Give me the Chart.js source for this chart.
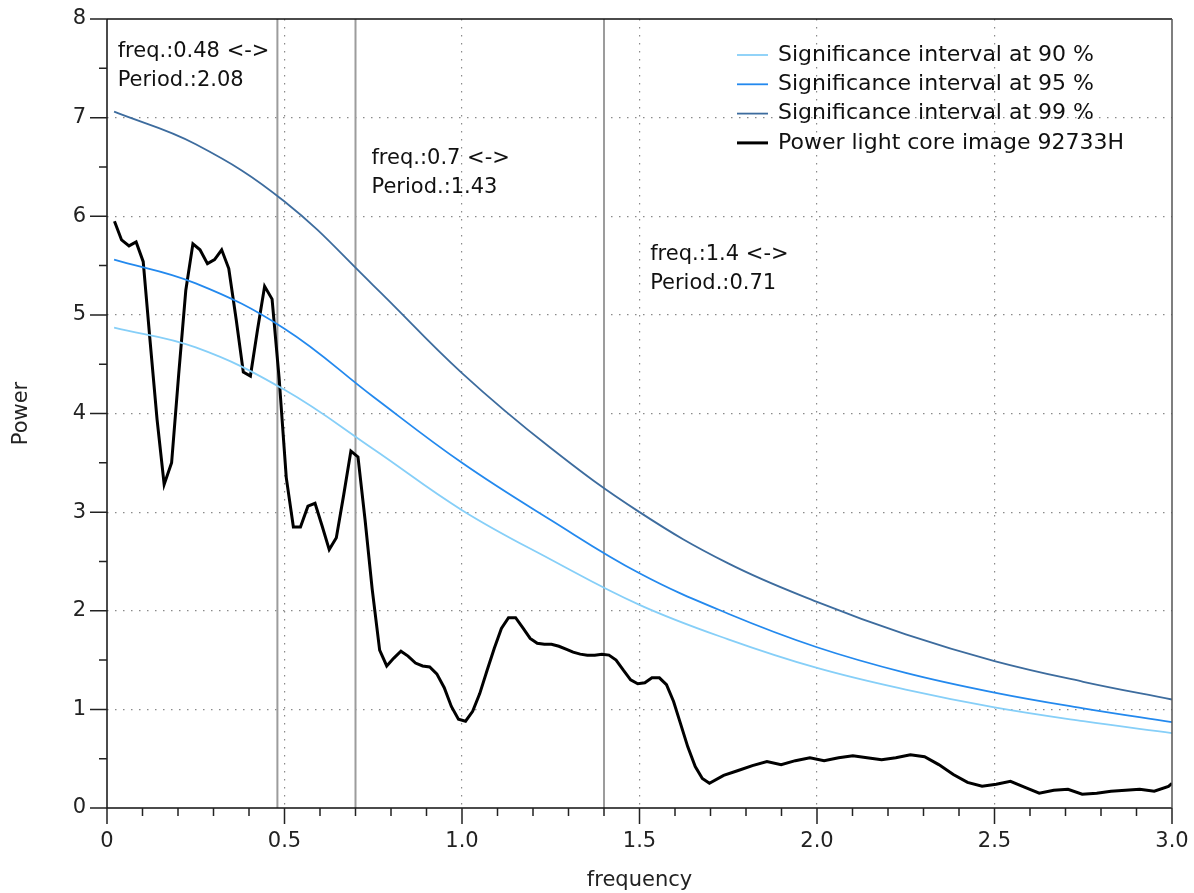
<!DOCTYPE html>
<html>
<head>
<meta charset="utf-8">
<script src="https://cdn.jsdelivr.net/npm/chart.js@4"></script>
<style>
	html, body { margin: 0; padding: 0; background: #fff; }
	#wrap { width: 1194px; height: 893px; }
</style>
</head>
<body>
<div id="wrap"><canvas id="myChart" width="1194" height="893"></canvas></div>
<script>

// Power spectrum (frequency / power)
var freq = [
	0.021, 0.041, 0.062, 0.082, 0.102, 0.121, 0.141, 0.161, 0.182, 0.202,
	0.222, 0.242, 0.262, 0.283, 0.303, 0.323, 0.343, 0.364, 0.384, 0.404,
	0.424, 0.444, 0.465, 0.485, 0.505, 0.525, 0.545, 0.566, 0.586, 0.606,
	0.626, 0.646, 0.667, 0.687, 0.707, 0.727, 0.747, 0.768, 0.788, 0.808,
	0.828, 0.848, 0.869, 0.889, 0.909, 0.929, 0.950, 0.970, 0.990, 1.010,
	1.030, 1.050, 1.071, 1.091, 1.111, 1.131, 1.151, 1.171, 1.192, 1.212,
	1.232, 1.252, 1.273, 1.293, 1.313, 1.333, 1.353, 1.374, 1.394, 1.414,
	1.434, 1.454, 1.475, 1.495, 1.515, 1.535, 1.556, 1.576, 1.596, 1.616,
	1.636, 1.657, 1.677, 1.697, 1.737, 1.778, 1.818, 1.859, 1.899, 1.939,
	1.980, 2.020, 2.061, 2.101, 2.141, 2.182, 2.222, 2.263, 2.303, 2.343,
	2.384, 2.424, 2.465, 2.505, 2.545, 2.586, 2.626, 2.667, 2.707, 2.747,
	2.788, 2.828, 2.869, 2.909, 2.950, 2.990, 3.000
];
var power = [
	5.95, 5.76, 5.70, 5.74, 5.54, 4.75, 3.94, 3.28, 3.50, 4.40,
	5.25, 5.72, 5.66, 5.52, 5.56, 5.66, 5.47, 4.95, 4.42, 4.38,
	4.85, 5.29, 5.16, 4.35, 3.35, 2.85, 2.85, 3.06, 3.09, 2.86,
	2.62, 2.74, 3.18, 3.62, 3.56, 2.92, 2.22, 1.60, 1.44, 1.52,
	1.59, 1.54, 1.47, 1.44, 1.43, 1.36, 1.22, 1.03, 0.90, 0.88,
	0.98, 1.16, 1.40, 1.62, 1.82, 1.93, 1.93, 1.83, 1.72, 1.67,
	1.66, 1.66, 1.64, 1.61, 1.58, 1.56, 1.55, 1.55, 1.56, 1.55,
	1.50, 1.40, 1.30, 1.26, 1.27, 1.32, 1.32, 1.25, 1.08, 0.85,
	0.62, 0.42, 0.30, 0.25, 0.33, 0.38, 0.43, 0.47, 0.44, 0.48,
	0.51, 0.48, 0.51, 0.53, 0.51, 0.49, 0.51, 0.54, 0.52, 0.44,
	0.34, 0.26, 0.22, 0.24, 0.27, 0.21, 0.15, 0.18, 0.19, 0.14,
	0.15, 0.17, 0.18, 0.19, 0.17, 0.22, 0.25
];

// Significance levels
var sigFreq = [0.02, 0.25, 0.5, 0.75, 1.0, 1.25, 1.5, 1.75, 2.0, 2.25, 2.5, 2.75, 3.0];
var sig90   = [4.87, 4.67, 4.24, 3.64, 3.02, 2.52, 2.06, 1.71, 1.42, 1.20, 1.02, 0.88, 0.76];
var sig95   = [5.56, 5.32, 4.86, 4.17, 3.50, 2.92, 2.38, 1.97, 1.63, 1.37, 1.17, 1.01, 0.87];
var sig99   = [7.06, 6.73, 6.15, 5.30, 4.41, 3.65, 3.00, 2.48, 2.09, 1.76, 1.49, 1.28, 1.10];

// Marked peaks
var markFreq   = [0.48, 0.7, 1.4];
var markPeriod = ['2.08', '1.43', '0.71'];
var markLabel  = ['0.48', '0.7', '1.4'];

var FONT = '"DejaVu Sans", sans-serif';
var FSIZE = 21;

function pts(xs, ys) {
	return xs.map(function (x, i) { return { x: x, y: ys[i] }; });
}

// where the marker notes sit (data units)
var notePos = [
	{ x: 0.03,  y: 7.67 },
	{ x: 0.745, y: 6.59 },
	{ x: 1.53,  y: 5.61 }
];

var decor = {
	id: 'decor',
	beforeDatasetsDraw: function (chart) {
		var ctx = chart.ctx, sx = chart.scales.x, a = chart.chartArea;
		ctx.save();
		ctx.strokeStyle = '#9c9c9c';
		ctx.lineWidth = 2;
		markFreq.forEach(function (f) {
			var px = sx.getPixelForValue(f);
			ctx.beginPath();
			ctx.moveTo(px, a.top);
			ctx.lineTo(px, a.bottom);
			ctx.stroke();
		});
		ctx.restore();
	},
	afterDraw: function (chart) {
		var ctx = chart.ctx, sx = chart.scales.x, sy = chart.scales.y, a = chart.chartArea;
		var v, p, i;
		ctx.save();

		// frame
		ctx.strokeStyle = '#111';
		ctx.lineWidth = 1.5;
		ctx.beginPath();
		ctx.moveTo(a.left, a.top);
		ctx.lineTo(a.left, a.bottom);
		ctx.lineTo(a.right, a.bottom);
		ctx.moveTo(a.left, a.top);
		ctx.lineTo(a.right, a.top);
		ctx.stroke();
		ctx.strokeStyle = '#555';
		ctx.beginPath();
		ctx.moveTo(a.right, a.top);
		ctx.lineTo(a.right, a.bottom);
		ctx.stroke();

		// ticks
		ctx.strokeStyle = '#222';
		ctx.lineWidth = 1.5;
		ctx.beginPath();
		for (i = 0; i <= 16; i++) {
			v = i * 0.5;
			p = sy.getPixelForValue(v);
			ctx.moveTo(a.left - (i % 2 === 0 ? 17 : 8), p);
			ctx.lineTo(a.left, p);
		}
		for (i = 0; i <= 30; i++) {
			v = i * 0.1;
			p = sx.getPixelForValue(v);
			ctx.moveTo(p, a.bottom);
			ctx.lineTo(p, a.bottom + (i % 5 === 0 ? 16 : 8));
		}
		ctx.stroke();

		// peak notes
		ctx.fillStyle = '#111';
		ctx.font = FSIZE + 'px ' + FONT;
		ctx.textBaseline = 'middle';
		ctx.textAlign = 'left';
		notePos.forEach(function (n, k) {
			var nx = sx.getPixelForValue(n.x), ny = sy.getPixelForValue(n.y);
			ctx.fillText('freq.:' + markLabel[k] + ' <->', nx, ny);
			ctx.fillText('Period.:' + markPeriod[k], nx, ny + 29);
		});

		// legend
		var lx = a.right - 435, ly = a.top + 36;
		ctx.font = '22px ' + FONT;
		chart.data.datasets.forEach(function (ds, k) {
			var yy = ly + k * 29.3;
			ctx.strokeStyle = ds.borderColor;
			ctx.lineWidth = ds.borderWidth;
			ctx.beginPath();
			ctx.moveTo(lx, yy);
			ctx.lineTo(lx + 31, yy);
			ctx.stroke();
			ctx.fillStyle = '#111';
			ctx.fillText(ds.label, lx + 41, yy);
		});
		ctx.restore();
	}
};

function gridColor(c) {
	var s = c.scale;
	if (c.tick.value <= s.min || c.tick.value >= s.max) return 'rgba(0,0,0,0)';
	return '#8a8a8a';
}

var ctx = document.getElementById('myChart');
var myChart = new Chart(ctx, {
	type: 'line',
	data: {
		datasets: [{
			label       : 'Significance interval at 90 %',
			data        : pts(sigFreq, sig90),
			borderColor : '#86cff8',
			borderWidth : 1.8,
			tension     : 0.4
		}, {
			label       : 'Significance interval at 95 %',
			data        : pts(sigFreq, sig95),
			borderColor : '#2389ee',
			borderWidth : 1.8,
			tension     : 0.4
		}, {
			label       : 'Significance interval at 99 %',
			data        : pts(sigFreq, sig99),
			borderColor : '#3d6c9e',
			borderWidth : 1.8,
			tension     : 0.4
		}, {
			label       : 'Power light core image 92733H',
			data        : pts(freq, power),
			borderColor : '#000',
			borderWidth : 3,
			tension     : 0
		}]
	},
	options: {
		responsive: false,
		animation: false,
		devicePixelRatio: 1,
		elements: { point: { radius: 0 } },
		layout: { padding: { top: 19, right: 22, left: 0, bottom: 0 } },
		plugins: { legend: { display: false }, tooltip: { enabled: false } },
		scales: {
			x: {
				type: 'linear',
				min: 0, max: 3,
				afterFit: function (s) { s.height = 85; s.paddingLeft = 0; s.paddingRight = 0; },
				ticks: {
					stepSize: 0.5,
					padding: 21,
					color: '#222',
					font: { family: FONT, size: FSIZE },
					maxRotation: 0,
					callback: function (v) { return v === 0 ? '0' : v.toFixed(1); }
				},
				grid: { color: gridColor, lineWidth: 1.2, drawTicks: false },
				border: { display: false, dash: [1.5, 6.5] },
				title: {
					display: true, text: 'frequency', color: '#222',
					font: { family: FONT, size: FSIZE },
					padding: { top: 0, bottom: 0 }
				}
			},
			y: {
				min: 0, max: 8,
				afterFit: function (s) { s.width = 107; s.paddingTop = 0; s.paddingBottom = 0; },
				ticks: {
					stepSize: 1,
					padding: 21,
					color: '#222',
					font: { family: FONT, size: FSIZE }
				},
				grid: { color: gridColor, lineWidth: 1.2, drawTicks: false },
				border: { display: false, dash: [1.5, 6.5] },
				title: {
					display: true, text: 'Power', color: '#222',
					font: { family: FONT, size: FSIZE },
					padding: { top: 9, bottom: 0 }
				}
			}
		}
	},
	plugins: [decor]
});
</script>
</body>
</html>
